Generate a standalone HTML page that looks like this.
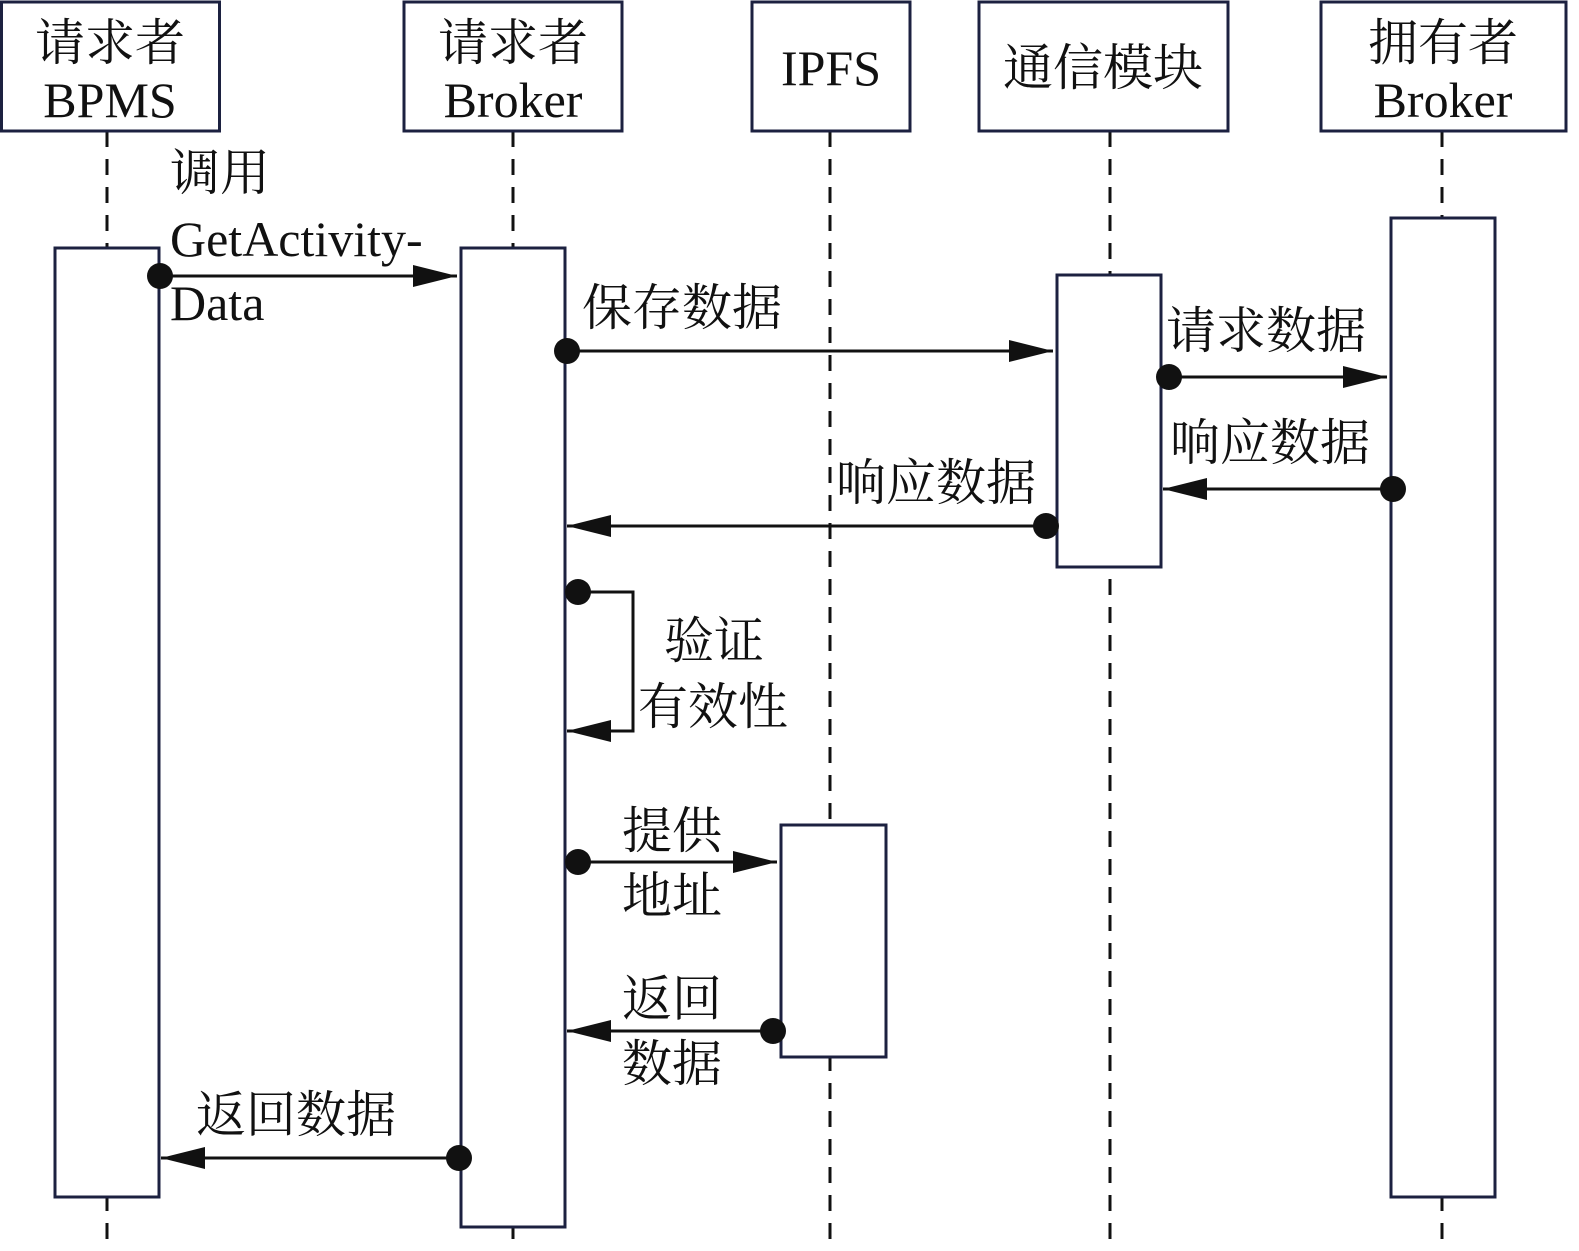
<!DOCTYPE html>
<html><head><meta charset="utf-8"><style>
html,body{margin:0;padding:0;background:#fff}
svg text{font-family:"Liberation Serif","Noto Serif CJK SC",serif;font-size:50px;fill:#111}
</style></head><body>
<svg width="1579" height="1246" viewBox="0 0 1579 1246" xmlns="http://www.w3.org/2000/svg">
<defs>
<marker id="a" markerWidth="46" markerHeight="24" refX="44" refY="12" orient="auto" markerUnits="userSpaceOnUse">
<path d="M0,1 L44,12 L0,23 Z" fill="#111"/></marker>
</defs>
<g stroke="#111" stroke-width="3" stroke-dasharray="16,12">
<line x1="107" y1="131" x2="107" y2="1246"/>
<line x1="513" y1="131" x2="513" y2="1246"/>
<line x1="830" y1="131" x2="830" y2="1246"/>
<line x1="1110" y1="131" x2="1110" y2="1246"/>
<line x1="1442" y1="131" x2="1442" y2="1246"/>
</g>
<g fill="#fff" stroke="#1c2140" stroke-width="3">
<rect x="1.5" y="2" width="218" height="129"/>
<rect x="404" y="2" width="218" height="129"/>
<rect x="752" y="2" width="158" height="129"/>
<rect x="979" y="2" width="249" height="129"/>
<rect x="1321" y="2" width="245" height="129"/>
<rect x="55" y="248" width="104" height="949"/>
<rect x="461" y="248" width="104" height="979"/>
<rect x="1057" y="275" width="104" height="292"/>
<rect x="1391" y="218" width="104" height="979"/>
<rect x="781" y="825" width="105" height="232"/>
</g>
<g text-anchor="middle">
<text x="110" y="60">请求者</text><text x="110" y="117">BPMS</text>
<text x="513" y="60">请求者</text><text x="513" y="117">Broker</text>
<text x="831" y="85">IPFS</text>
<text x="1103" y="85">通信模块</text>
<text x="1443" y="60">拥有者</text><text x="1443" y="117">Broker</text>
</g>
<g stroke="#111" stroke-width="3" fill="none">
<line x1="160" y1="276" x2="457" y2="276" marker-end="url(#a)"/>
<line x1="567" y1="351" x2="1053" y2="351" marker-end="url(#a)"/>
<line x1="1169" y1="377" x2="1387" y2="377" marker-end="url(#a)"/>
<line x1="1393" y1="489" x2="1163" y2="489" marker-end="url(#a)"/>
<line x1="1046" y1="526" x2="567" y2="526" marker-end="url(#a)"/>
<polyline points="578,592 633,592 633,731 567,731" marker-end="url(#a)"/>
<line x1="578" y1="862" x2="777" y2="862" marker-end="url(#a)"/>
<line x1="773" y1="1031" x2="567" y2="1031" marker-end="url(#a)"/>
<line x1="459" y1="1158" x2="161" y2="1158" marker-end="url(#a)"/>
</g>
<g fill="#111">
<circle cx="160" cy="276" r="13"/><circle cx="567" cy="351" r="13"/>
<circle cx="1169" cy="377" r="13"/><circle cx="1393" cy="489" r="13"/>
<circle cx="1046" cy="526" r="13"/><circle cx="578" cy="592" r="13"/>
<circle cx="578" cy="862" r="13"/><circle cx="773" cy="1031" r="13"/>
<circle cx="459" cy="1158" r="13"/>
</g>
<text x="170" y="190">调用</text>
<text x="170" y="256">GetActivity-</text>
<text x="170" y="320">Data</text>
<text x="582" y="325">保存数据</text>
<text x="1166" y="348">请求数据</text>
<text x="1170" y="460">响应数据</text>
<text x="836" y="500">响应数据</text>
<text x="664" y="658">验证</text>
<text x="638" y="724">有效性</text>
<text x="622" y="848">提供</text>
<text x="622" y="913">地址</text>
<text x="622" y="1016">返回</text>
<text x="622" y="1081">数据</text>
<text x="196" y="1132">返回数据</text>
</svg>
</body></html>
